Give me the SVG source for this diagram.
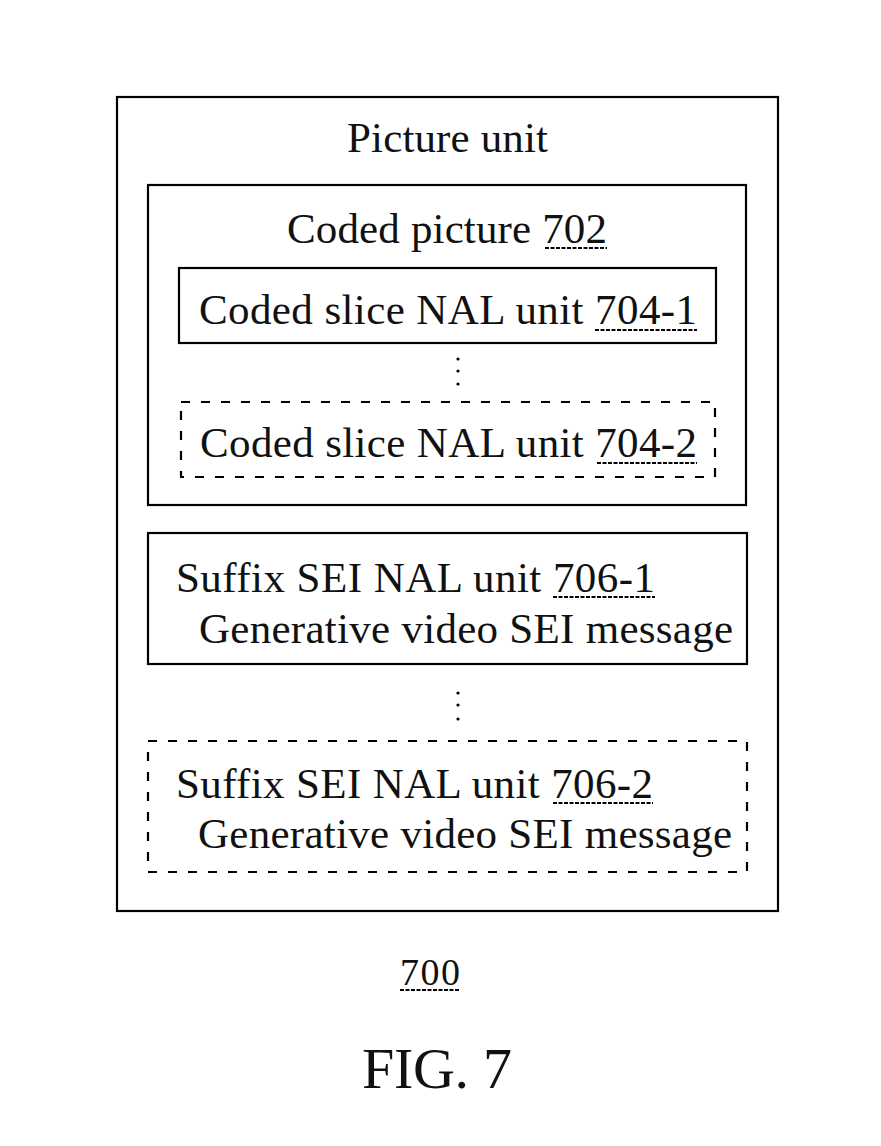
<svg xmlns="http://www.w3.org/2000/svg" width="881" height="1146" viewBox="0 0 881 1146">
<style>
.box{fill:none;stroke:#000;stroke-width:2.2}
.dbox{fill:none;stroke:#000;stroke-width:2.2;stroke-dasharray:9 11}
.t{font-family:"Liberation Serif",serif;font-size:43px;fill:#111}
.ul{stroke:#000;stroke-width:2.2;stroke-dasharray:4 1.5}
.dot{fill:#000}
</style>
<rect width="881" height="1146" fill="#fff"/>
<g id="picture-unit">
<rect class="box" x="117" y="97" width="661" height="814"/>
<text class="t" x="347" y="152" textLength="201" lengthAdjust="spacing">Picture unit</text>
</g>
<g id="coded-picture-702">
<rect class="box" x="148" y="185" width="598" height="320"/>
<text class="t" x="287" y="243" textLength="320" lengthAdjust="spacing">Coded picture 702</text>
<line class="ul" x1="545" y1="248" x2="607" y2="248"/>
</g>
<g id="nal-704-1">
<rect class="box" x="179" y="268" width="537" height="75"/>
<text class="t" x="199" y="324" textLength="498" lengthAdjust="spacing">Coded slice NAL unit 704-1</text>
<line class="ul" x1="595" y1="330" x2="697" y2="330"/>
</g>
<g id="ellipsis-1">
<circle class="dot" cx="458" cy="359" r="1.6"/>
<circle class="dot" cx="458" cy="371" r="1.6"/>
<circle class="dot" cx="458" cy="384" r="1.6"/>
</g>
<g id="nal-704-2">
<rect class="dbox" x="181" y="402" width="534" height="75"/>
<text class="t" x="200" y="457" textLength="497" lengthAdjust="spacing">Coded slice NAL unit 704-2</text>
<line class="ul" x1="597" y1="463" x2="697" y2="463"/>
</g>
<g id="sei-706-1">
<rect class="box" x="148" y="533" width="599" height="131"/>
<text class="t" x="176" y="592" textLength="479" lengthAdjust="spacing">Suffix SEI NAL unit 706-1</text>
<line class="ul" x1="553" y1="597" x2="655" y2="597"/>
<text class="t" x="199" y="643" textLength="534" lengthAdjust="spacing">Generative video SEI message</text>
</g>
<g id="ellipsis-2">
<circle class="dot" cx="458" cy="693" r="1.6"/>
<circle class="dot" cx="458" cy="705" r="1.6"/>
<circle class="dot" cx="458" cy="719" r="1.6"/>
</g>
<g id="sei-706-2">
<rect class="dbox" x="148" y="741" width="599" height="131"/>
<text class="t" x="176" y="798" textLength="477" lengthAdjust="spacing">Suffix SEI NAL unit 706-2</text>
<line class="ul" x1="553" y1="803" x2="653" y2="803"/>
<text class="t" x="198" y="848" textLength="534" lengthAdjust="spacing">Generative video SEI message</text>
</g>
<g id="label-700">
<text class="t" x="400" y="985" style="font-size:38px" textLength="60" lengthAdjust="spacing">700</text>
<line class="ul" x1="400" y1="990" x2="460" y2="990"/>
</g>
<g id="fig-caption">
<text class="t" x="362" y="1088" style="font-size:58px" textLength="150" lengthAdjust="spacing">FIG. 7</text>
</g>
<g id="connectors"></g>
</svg>
